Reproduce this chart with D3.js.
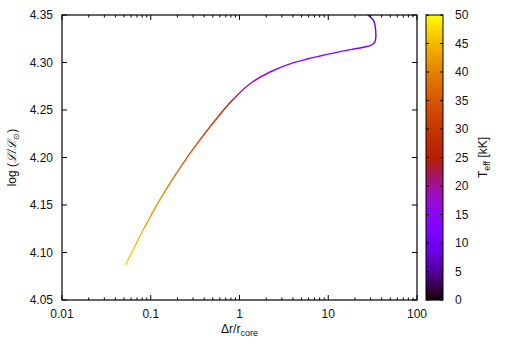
<!DOCTYPE html>
<meta charset="utf-8">
<script src="https://d3js.org/d3.v7.min.js"></script>
<style>
  body { margin: 0; background: #fff; }
  text { font-family: "Liberation Sans", Arial, sans-serif; font-size: 12px; fill: #111; }
</style>
<div id="chart"></div>
<script>
// track: Δr/r_core, log L/Lsun, Teff in kK
var dr   = [0.0522, 0.0824, 0.127, 0.196, 0.301, 0.553, 0.851, 1.313, 2.21, 3.71, 5.96, 8.07, 13.6, 24.8, 30.9, 33.6, 33.6, 32.2, 27.8];
var logL = [4.0868, 4.1239, 4.1556, 4.1837, 4.2091, 4.2411, 4.2612, 4.2776, 4.2900, 4.2986, 4.3039, 4.3068, 4.3114, 4.3160, 4.3184, 4.3219, 4.3395, 4.3447, 4.3500];
var teff = [47, 44, 41, 38, 34, 29, 24, 20, 16, 14.5, 14, 13.5, 12, 10, 9, 8.5, 8.5, 8.5, 8.5];

var xTicks = [0.01, 0.1, 1, 10, 100];
var yTicks = [4.05, 4.10, 4.15, 4.20, 4.25, 4.30, 4.35];
var cbTicks = [0, 5, 10, 15, 20, 25, 30, 35, 40, 45, 50];

var W = 506, H = 354;
var pL = 62, pR = 417, pT = 15, pB = 300;
var cbLeft = 426, cbRight = 443;

// gnuplot default palette (rgbformulae 7,5,15)
function palette(t) {
  var r = Math.sqrt(t), g = Math.pow(t, 3), b = Math.sin(2 * Math.PI * t);
  var c = function (v) { return Math.round(255 * Math.max(0, Math.min(1, v))); };
  return "rgb(" + c(r) + "," + c(g) + "," + c(b) + ")";
}

var svg = d3.select("#chart").append("svg").attr("width", W).attr("height", H);

var x = d3.scaleLog().domain([0.01, 100]).range([pL, pR]);
var y = d3.scaleLinear().domain([4.05, 4.35]).range([pB, pT]);
var cb = d3.scaleLinear().domain([0, 50]).range([pB, pT]);
var cnorm = d3.scaleLinear().domain([0, 50]).range([0, 1]);

// colour along the track: vertical gradient (logL rises monotonically)
var defs = svg.append("defs");
var y0 = y(logL[0]), y1 = y(logL[logL.length - 1]);
var grad = defs.append("linearGradient").attr("id", "trk")
  .attr("gradientUnits", "userSpaceOnUse")
  .attr("x1", 0).attr("x2", 0).attr("y1", y0).attr("y2", y1);
logL.forEach(function (v, i) {
  grad.append("stop").attr("offset", (y(v) - y0) / (y1 - y0))
    .attr("stop-color", palette(cnorm(teff[i])));
});
defs.append("clipPath").attr("id", "clip").append("rect")
  .attr("x", pL).attr("y", pT).attr("width", pR - pL).attr("height", pB - pT);

var pts = dr.map(function (d, i) { return [x(d), y(logL[i])]; });
svg.append("path")
  .attr("d", d3.line().curve(d3.curveCatmullRom)(pts))
  .attr("fill", "none").attr("stroke", "url(#trk)").attr("stroke-width", 1.4)
  .attr("clip-path", "url(#clip)");

// ticks (inside, mirrored)
var g = svg.append("g").attr("stroke", "#000").attr("stroke-width", 1);
xTicks.forEach(function (t, i) {
  var px = x(t);
  g.append("line").attr("x1", px).attr("x2", px).attr("y1", pB).attr("y2", pB - 5);
  g.append("line").attr("x1", px).attr("x2", px).attr("y1", pT).attr("y2", pT + 5);
  if (i < xTicks.length - 1) {
    for (var k = 2; k <= 9; k++) {
      var mx = x(t * k);
      g.append("line").attr("x1", mx).attr("x2", mx).attr("y1", pB).attr("y2", pB - 2.5);
      g.append("line").attr("x1", mx).attr("x2", mx).attr("y1", pT).attr("y2", pT + 2.5);
    }
  }
  svg.append("text").attr("x", px).attr("y", 318).attr("text-anchor", "middle").text(t);
});
yTicks.forEach(function (t) {
  var py = y(t);
  g.append("line").attr("x1", pL).attr("x2", pL + 5).attr("y1", py).attr("y2", py);
  g.append("line").attr("x1", pR).attr("x2", pR - 5).attr("y1", py).attr("y2", py);
  svg.append("text").attr("x", 53).attr("y", py + 4).attr("text-anchor", "end").text(t.toFixed(2));
});

svg.append("rect").attr("x", pL).attr("y", pT).attr("width", pR - pL).attr("height", pB - pT)
  .attr("fill", "none").attr("stroke", "#000").attr("stroke-width", 1.2);

// colour bar
var cbg = svg.append("g");
for (var py = pT; py < pB; py++) {
  cbg.append("rect").attr("x", cbLeft).attr("y", py).attr("width", cbRight - cbLeft).attr("height", 1.2)
    .attr("fill", palette(cnorm(cb.invert(py + 0.5))));
}
cbg.append("rect").attr("x", cbLeft).attr("y", pT).attr("width", cbRight - cbLeft).attr("height", pB - pT)
  .attr("fill", "none").attr("stroke", "#000").attr("stroke-width", 1);
cbTicks.forEach(function (t) {
  var py = cb(t);
  cbg.append("line").attr("x1", cbLeft).attr("x2", cbLeft + 3).attr("y1", py).attr("y2", py).attr("stroke", "#000");
  cbg.append("line").attr("x1", cbRight).attr("x2", cbRight - 3).attr("y1", py).attr("y2", py).attr("stroke", "#000");
  svg.append("text").attr("x", 455).attr("y", py + 4).text(t);
});

// axis titles
var yl = svg.append("text").attr("transform", "translate(16," + ((pT + pB) / 2) + ") rotate(-90)")
  .attr("text-anchor", "middle");
yl.append("tspan").text("log (");
yl.append("tspan").attr("font-style", "italic").text("ℒ/ℒ");
yl.append("tspan").attr("dy", 3).attr("font-size", "8px").text("⊙");
yl.append("tspan").attr("dy", -3).text(")");

var xl = svg.append("text").attr("x", (pL + pR) / 2).attr("y", 333).attr("text-anchor", "middle");
xl.append("tspan").text("Δr/r");
xl.append("tspan").attr("dy", 3).attr("font-size", "9px").text("core");

var cl = svg.append("text").attr("transform", "translate(487," + ((pT + pB) / 2) + ") rotate(-90)")
  .attr("text-anchor", "middle");
cl.append("tspan").text("T");
cl.append("tspan").attr("dy", 3).attr("font-size", "9px").text("eff");
cl.append("tspan").attr("dy", -3).text(" [kK]");
</script>
